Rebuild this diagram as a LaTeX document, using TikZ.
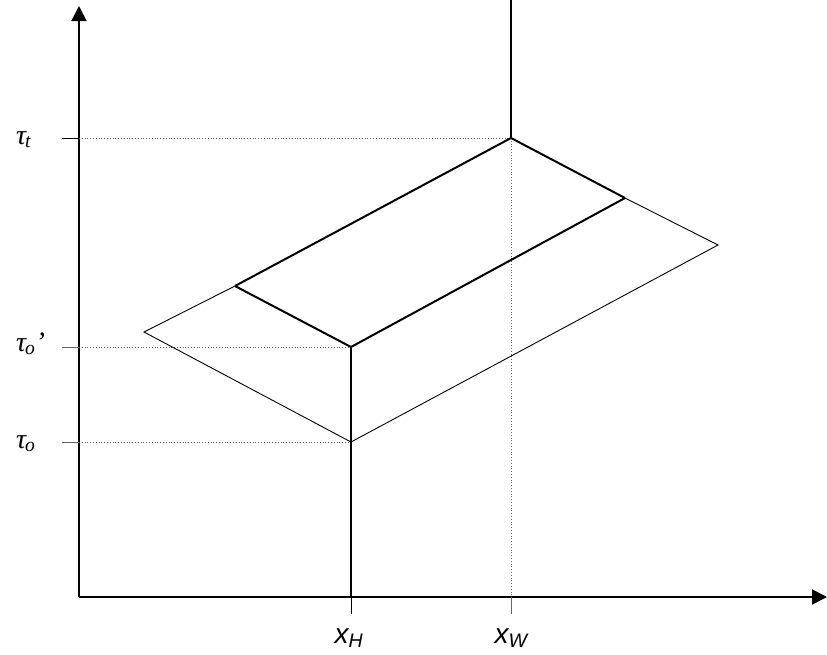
\documentclass[tikz,border=0pt]{standalone}
\usepackage{fontspec}
\setmainfont{Liberation Serif}
\newfontfamily\lsans{Liberation Sans}
\usetikzlibrary{arrows.meta}
\begin{document}
\begin{tikzpicture}[x=1pt,y=-1pt,
  axis/.style={line width=2pt,-{Triangle[length=15pt,width=15pt]}},
  thick edge/.style={line width=2pt},
  thin edge/.style={line width=0.9pt},
  guide/.style={line width=0.8pt,dotted,black!60},
  tick/.style={line width=1pt,black!60},
  taulbl/.style={font=\fontsize{28}{30}\selectfont\itshape,anchor=base west,inner sep=0pt},
  xlbl/.style={font=\lsans\fontsize{28}{30}\selectfont\itshape,anchor=base,inner sep=0pt}]
\useasboundingbox (0,0) rectangle (827,654);
% axes
\coordinate (O) at (79,597);
\coordinate (Ytop) at (79,6);
\coordinate (Xend) at (827,597);
\draw[axis] (O) -- (Ytop);
\draw[axis] (O) -- (Xend);
% key points
\coordinate (A) at (511,138);
\coordinate (B) at (351,347);
\coordinate (C) at (235,286);
\coordinate (D) at (625,198);
\coordinate (E) at (144,332);
\coordinate (F) at (351,442);
\coordinate (G) at (718,245);
\coordinate (Atop) at (511,0);
\coordinate (Bbot) at (351,597);
\coordinate (Wbot) at (511,597);
\coordinate (Yt) at (79,138);
\coordinate (Yo2) at (79,347);
\coordinate (Yo) at (79,442);
\coordinate (Tt) at (62,138);
\coordinate (To2) at (62,347);
\coordinate (To) at (62,442);
\coordinate (TH) at (351,614);
\coordinate (TW) at (511,614);
% guides
\draw[guide] (Yt) -- (A);
\draw[guide] (Yo2) -- (B);
\draw[guide] (Yo) -- (F);
\draw[guide] (A) -- (Wbot);
% ticks
\draw[line width=1pt] (Tt) -- (Yt);
\draw[tick] (To2) -- (Yo2);
\draw[tick] (To) -- (Yo);
\draw[line width=1pt] (Bbot) -- (TH);
\draw[tick] (Wbot) -- (TW);
% thin outline
\draw[thin edge] (C) -- (E) -- (F) -- (G) -- (D);
% thick
\draw[thick edge] (Atop) -- (A);
\draw[thick edge] (C) -- (A) -- (D);
\draw[thick edge] (C) -- (B) -- (D);
\draw[thick edge] (B) -- (Bbot);
% labels
\node[taulbl] (lt) at (16,144) {τ\textsubscript{\kern-1pt t}};
\node[taulbl] (lo2) at (16,351) {τ\textsubscript{\kern-1pt o}’};
\node[taulbl] (lo) at (16,448) {τ\textsubscript{\kern-1pt o}};
\node[xlbl] (lH) at (349,643) {x\textsubscript{H}};
\node[xlbl] (lW) at (511,643) {x\textsubscript{W}};
\end{tikzpicture}
\end{document}
